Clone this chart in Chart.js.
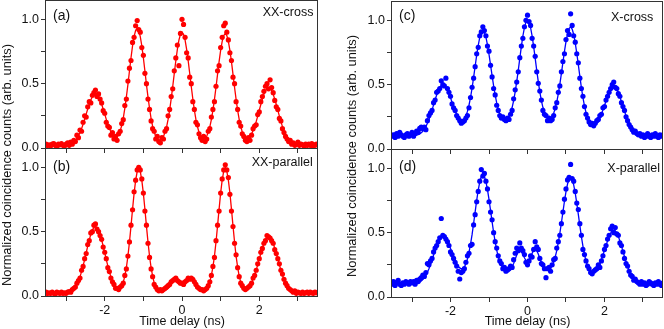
<!DOCTYPE html>
<html>
<head>
<meta charset="utf-8">
<script src="https://cdn.jsdelivr.net/npm/chart.js@4.4.1/dist/chart.umd.min.js"></script>
<style>
  body { margin: 0; background: #fff; }
  #wrap { position: relative; width: 664px; height: 329px; overflow: hidden; font-family: 'Liberation Sans', Arial, sans-serif; }
  canvas { position: absolute; }
  .ytitle { position: absolute; width: 300px; height: 16px; line-height: 16px; text-align: center;
            font-size: 12.8px; color: #111; transform: rotate(-90deg); white-space: nowrap; }
</style>
</head>
<body>
<div id="wrap">
  <canvas id="panelA" width="322" height="160" style="left:0;top:0"></canvas>
  <canvas id="panelB" width="322" height="181" style="left:0;top:148px"></canvas>
  <canvas id="panelC" width="318" height="160" style="left:346px;top:0"></canvas>
  <canvas id="panelD" width="318" height="180" style="left:346px;top:149px"></canvas>
  <div class="ytitle" style="left:-143px;top:157px">Normalized coincidence counts (arb. units)</div>
  <div class="ytitle" style="left:202px;top:148px">Normalized coincidence counts (arb. units)</div>
</div>
<script>
// time bins (ns)
const delayStart = -3.52;
const delayStep = 0.04;
const delayTicks = [-3, -2, -1, 0, 1, 2, 3];
const delayLabels = [-2, 0, 2];
const countTicks = [0, 0.25, 0.5, 0.75, 1];
const countLabels = [0, 0.5, 1];

const panelTags = ['(a)', '(b)', '(c)', '(d)'];
const panelNames = ['XX-cross', 'XX-parallel', 'X-cross', 'X-parallel'];

// (a) XX-cross
const xxCrossFit = [
  .02,.02,.02,.02,.02,.02,.02,.02,.02,.02,
  .02,.02,.021,.023,.024,.027,.032,.038,.046,.058,
  .074,.094,.12,.15,.184,.222,.263,.303,.34,.373,
  .398,.414,.42,.414,.398,.373,.34,.303,.263,.222,
  .184,.153,.125,.103,.089,.084,.089,.104,.133,.175,
  .233,.308,.396,.493,.598,.701,.793,.866,.914,.93,
  .914,.866,.793,.701,.598,.493,.396,.308,.229,.168,
  .124,.09,.072,.061,.061,.07,.089,.121,.163,.222,
  .295,.382,.478,.579,.678,.767,.838,.884,.9,.884,
  .838,.767,.678,.579,.478,.382,.295,.222,.166,.123,
  .092,.076,.071,.076,.093,.121,.165,.22,.292,.378,
  .472,.572,.671,.759,.829,.874,.89,.874,.829,.759,
  .671,.572,.472,.378,.292,.223,.167,.125,.097,.081,
  .075,.078,.089,.109,.135,.166,.205,.248,.293,.338,
  .38,.417,.446,.464,.47,.464,.446,.417,.38,.338,
  .293,.248,.205,.166,.132,.104,.081,.063,.05,.04,
  .033,.028,.025,.023,.02,.02,.02,.02,.02,.02,
  .02,.02,.02,.02,.02,.02,.02
];
const xxCrossData = [
  .03,.02,.025,.015,.03,.035,.02,.01,.03,.025,
  .035,.02,.015,.03,.04,.02,.045,.03,.06,.05,
  .1,.08,.14,.13,.2,.25,.24,.32,.36,.35,
  .41,.43,.45,.4,.42,.38,.35,.29,.27,.2,
  .17,.16,.1,.12,.07,.09,.06,.11,.13,.19,
  .22,.33,.38,.52,.62,.68,.82,.86,.95,.99,
  .92,.9,.78,.72,.58,.5,.38,.3,.21,.15,
  .13,.07,.09,.05,.04,.08,.07,.13,.15,.25,
  .3,.4,.46,.6,.7,.8,.64,.89,1.0,.96,
  .86,.74,.7,.55,.5,.36,.3,.2,.18,.11,
  .08,.06,.09,.05,.07,.13,.15,.24,.3,.36,
  .48,.6,.64,.78,.86,.95,.97,.9,.84,.74,
  .68,.55,.5,.36,.3,.2,.17,.11,.09,.06,
  .05,.08,.06,.1,.15,.17,.18,.26,.28,.36,
  .4,.44,.48,.5,.46,.53,.47,.43,.37,.32,
  .3,.23,.21,.15,.12,.09,.07,.05,.06,.03,
  .04,.02,.03,.045,.02,.03,.025,.015,.03,.02,
  .03,.02,.035,.01,.025,.03,.02
];

// (b) XX-parallel
const xxParallelFit = [
  .02,.02,.02,.02,.02,.02,.02,.02,.02,.02,
  .02,.02,.02,.024,.026,.029,.035,.043,.054,.07,
  .09,.117,.149,.189,.234,.283,.336,.388,.437,.479,
  .512,.533,.54,.533,.512,.479,.437,.388,.336,.283,
  .234,.189,.149,.117,.092,.074,.062,.058,.063,.078,
  .108,.155,.22,.309,.419,.543,.674,.797,.899,.967,
  .99,.967,.899,.797,.674,.543,.419,.309,.22,.155,
  .102,.069,.05,.042,.04,.04,.042,.045,.05,.06,
  .078,.1,.12,.134,.14,.135,.122,.108,.098,.095,
  .1,.114,.128,.138,.142,.135,.12,.1,.08,.064,
  .054,.047,.047,.052,.058,.079,.11,.16,.225,.31,
  .42,.545,.675,.8,.9,.97,1,.97,.9,.8,
  .675,.545,.42,.31,.225,.155,.108,.077,.061,.054,
  .057,.066,.079,.102,.13,.163,.201,.243,.287,.331,
  .372,.408,.436,.454,.46,.454,.436,.408,.372,.331,
  .287,.243,.201,.163,.13,.102,.079,.062,.049,.039,
  .033,.028,.025,.023,.02,.02,.02,.02,.02,.02,
  .02,.02,.02,.02,.02,.02,.02
];
const xxParallelData = [
  .03,.02,.025,.02,.03,.02,.015,.03,.025,.02,
  .03,.02,.025,.02,.03,.035,.03,.05,.06,.07,
  .1,.12,.14,.2,.23,.29,.33,.4,.43,.49,
  .5,.55,.56,.52,.5,.47,.44,.38,.34,.29,
  .22,.19,.14,.11,.09,.06,.06,.05,.07,.08,
  .1,.16,.21,.31,.42,.55,.67,.81,.9,.98,
  1,.98,.91,.8,.66,.55,.41,.3,.21,.15,
  .09,.07,.05,.04,.05,.04,.05,.06,.07,.08,
  .09,.11,.12,.13,.14,.12,.11,.1,.1,.09,
  .11,.12,.14,.13,.14,.13,.11,.09,.07,.06,
  .05,.05,.04,.05,.06,.08,.11,.16,.23,.3,
  .43,.55,.66,.8,.91,.98,1.02,.98,.92,.79,
  .66,.54,.41,.32,.22,.15,.1,.08,.06,.05,
  .06,.07,.08,.1,.14,.16,.2,.25,.29,.34,
  .37,.41,.43,.47,.46,.45,.43,.41,.36,.33,
  .29,.25,.2,.17,.13,.1,.08,.06,.05,.04,
  .03,.04,.02,.03,.025,.02,.03,.02,.025,.03,
  .02,.03,.025,.02,.03,.025,.03
];

// (c) X-cross
const xCrossFit = [
  .1,.1,.1,.1,.1,.1,.1,.1,.1,.1,
  .1,.1,.1,.1,.103,.104,.107,.112,.118,.126,
  .138,.154,.174,.2,.23,.264,.302,.343,.383,.42,
  .453,.478,.494,.5,.494,.478,.458,.43,.398,.363,
  .327,.296,.269,.247,.23,.222,.223,.233,.257,.292,
  .34,.401,.472,.556,.643,.729,.806,.867,.907,.92,
  .907,.869,.81,.736,.654,.57,.49,.418,.358,.309,
  .273,.247,.232,.225,.225,.235,.253,.282,.322,.376,
  .444,.523,.611,.704,.796,.878,.943,.985,1,.985,
  .943,.878,.796,.704,.611,.523,.444,.376,.324,.284,
  .257,.241,.235,.24,.253,.278,.316,.365,.428,.502,
  .585,.673,.758,.835,.897,.936,.95,.932,.89,.824,
  .744,.655,.564,.477,.399,.336,.282,.242,.213,.197,
  .187,.185,.191,.203,.221,.244,.272,.304,.339,.373,
  .404,.435,.459,.475,.48,.475,.459,.435,.404,.369,
  .331,.292,.256,.224,.195,.171,.151,.136,.125,.117,
  .111,.107,.104,.103,.101,.1,.1,.1,.1,.1,
  .1,.1,.1,.1,.1,.1,.1
];
const xCrossData = [
  .1,.11,.09,.12,.1,.13,.11,.1,.09,.11,
  .12,.1,.11,.13,.1,.12,.14,.13,.16,.17,
  .16,.17,.15,.22,.26,.28,.3,.36,.38,.44,
  .45,.47,.53,.5,.49,.55,.47,.44,.41,.35,
  .32,.3,.26,.24,.22,.2,.21,.22,.24,.26,
  .32,.4,.48,.55,.64,.74,.79,.88,.91,.95,
  .92,.88,.8,.76,.65,.56,.47,.42,.34,.3,
  .26,.24,.25,.23,.22,.24,.23,.27,.3,.39,
  .46,.52,.6,.71,.8,.86,.95,1,1.04,.99,
  .96,.86,.8,.72,.6,.51,.45,.38,.3,.27,
  .26,.22,.24,.22,.23,.26,.32,.36,.44,.49,
  .6,.68,.74,.85,.92,.89,1.05,.96,.88,.83,
  .74,.67,.55,.47,.41,.33,.27,.24,.21,.19,
  .2,.18,.2,.22,.23,.26,.27,.32,.33,.38,
  .41,.44,.47,.5,.52,.48,.47,.43,.41,.36,
  .33,.3,.25,.22,.19,.17,.15,.13,.14,.12,
  .11,.12,.1,.11,.09,.1,.12,.1,.09,.11,
  .1,.12,.1,.09,.11,.1,.11
];

// (d) X-parallel
const xParallelFit = [
  .1,.1,.1,.1,.1,.1,.1,.1,.1,.1,
  .1,.1,.1,.1,.103,.104,.107,.111,.116,.124,
  .135,.15,.169,.192,.22,.252,.287,.325,.362,.396,
  .426,.45,.465,.47,.465,.45,.431,.406,.377,.345,
  .312,.284,.259,.24,.226,.219,.222,.233,.258,.296,
  .347,.411,.484,.571,.662,.751,.831,.895,.936,.95,
  .936,.897,.835,.758,.673,.585,.502,.428,.365,.314,
  .274,.245,.226,.212,.205,.203,.205,.215,.232,.26,
  .293,.326,.351,.36,.353,.331,.305,.284,.277,.287,
  .31,.339,.362,.37,.36,.334,.299,.264,.235,.218,
  .209,.208,.213,.225,.244,.272,.311,.36,.422,.494,
  .575,.66,.744,.818,.878,.917,.93,.913,.871,.807,
  .73,.642,.554,.469,.395,.331,.28,.241,.213,.197,
  .189,.189,.196,.21,.231,.257,.289,.325,.363,.401,
  .436,.47,.497,.514,.52,.514,.497,.47,.436,.397,
  .355,.313,.273,.237,.205,.178,.157,.14,.128,.118,
  .112,.108,.105,.103,.102,.1,.1,.1,.1,.1,
  .1,.1,.1,.1,.1,.1,.1
];
const xParallelData = [
  .1,.12,.09,.11,.13,.1,.09,.11,.1,.12,
  .11,.1,.12,.11,.12,.1,.13,.12,.14,.15,
  .17,.16,.19,.26,.25,.28,.3,.35,.38,.4,
  .43,.46,.61,.48,.47,.45,.43,.4,.35,.33,
  .3,.27,.24,.2,.14,.19,.2,.22,.27,.32,
  .34,.4,.41,.56,.64,.74,.82,.9,.99,.94,
  .96,.9,.84,.74,.66,.6,.5,.43,.38,.32,
  .28,.26,.22,.23,.2,.21,.22,.24,.23,.29,
  .34,.38,.36,.42,.38,.36,.33,.27,.25,.28,
  .32,.31,.37,.43,.39,.37,.3,.26,.25,.22,
  .15,.22,.23,.2,.25,.29,.3,.38,.43,.48,
  .57,.66,.76,.84,.91,.93,1.03,.92,.9,.82,
  .73,.68,.57,.48,.37,.33,.28,.24,.22,.19,
  .18,.2,.21,.22,.25,.23,.28,.32,.37,.4,
  .45,.48,.53,.55,.5,.54,.49,.48,.42,.4,
  .35,.3,.26,.24,.2,.17,.16,.13,.14,.12,
  .11,.1,.12,.1,.11,.09,.1,.12,.11,.1,
  .09,.11,.1,.12,.1,.09,.11
];

const toPoints = vals => vals.map((v, i) => ({ x: +(delayStart + i * delayStep).toFixed(2), y: v }));

Chart.defaults.font.family = "'Liberation Sans', Arial, sans-serif";
Chart.defaults.color = '#111';

// frame round the plot + panel letter and name
const panelDecor = {
  id: 'panelDecor',
  afterDraw(chart, args, o) {
    const { ctx, chartArea: a } = chart;
    ctx.save();
    ctx.strokeStyle = '#333';
    ctx.lineWidth = 1;
    ctx.strokeRect(a.left - 0.5, a.top + 0.5, a.right - a.left, a.bottom - a.top);
    ctx.fillStyle = '#111';
    ctx.textBaseline = 'middle';
    ctx.textAlign = 'left';
    ctx.font = "14px 'Liberation Sans', Arial, sans-serif";
    ctx.fillText(o.tag, a.left + o.tagX, a.top + o.tagY);
    ctx.font = "12.5px 'Liberation Sans', Arial, sans-serif";
    ctx.fillText(o.name, a.left + o.nameX, a.top + o.nameY);
    ctx.restore();
  }
};

function makePanel(id, fit, data, color, p) {
  return new Chart(document.getElementById(id), {
    type: 'scatter',
    data: {
      datasets: [
        {
          data: toPoints(fit),
          showLine: true,
          borderColor: color,
          borderWidth: 1.3,
          pointRadius: 0,
          tension: 0,
          clip: 0,
        },
        {
          data: toPoints(data),
          showLine: false,
          pointRadius: 2.6,
          pointBorderWidth: 0,
          pointBackgroundColor: color,
          clip: 0,
        },
      ],
    },
    options: {
      responsive: false,
      animation: false,
      events: [],
      layout: { padding: p.pad, autoPadding: false },
      plugins: {
        legend: { display: false },
        tooltip: { enabled: false },
        panelDecor: p.decor,
      },
      scales: {
        x: {
          type: 'linear',
          min: -3.52,
          max: 3.52,
          afterBuildTicks: s => { s.ticks = delayTicks.map(v => ({ value: v })); },
          afterFit: s => { s.height = p.xHeight; s.paddingLeft = 0; s.paddingRight = 0; },
          grid: { drawOnChartArea: false, drawTicks: true, tickLength: 5, color: '#333' },
          border: { display: false },
          ticks: {
            padding: 2,
            maxRotation: 0,
            autoSkip: false,
            font: { size: 12.5 },
            callback: v => (p.xLabels && delayLabels.includes(v)) ? String(v) : '',
          },
          title: {
            display: p.xLabels,
            text: 'Time delay (ns)',
            font: { size: 12.5 },
            padding: { top: 0, bottom: 0 },
          },
        },
        y: {
          min: 0,
          max: 1.15,
          afterBuildTicks: s => { s.ticks = countTicks.map(v => ({ value: v })); },
          afterFit: s => { s.width = 46; s.paddingTop = 0; s.paddingBottom = 0; },
          grid: { drawOnChartArea: false, drawTicks: true, tickLength: 5, color: '#333' },
          border: { display: false },
          ticks: {
            padding: 2,
            font: { size: 12.5 },
            callback: v => countLabels.includes(v) ? v.toFixed(1) : '',
          },
        },
      },
    },
    plugins: [panelDecor],
  });
}

makePanel('panelA', xxCrossFit, xxCrossData, '#ff0000', {
  pad: { left: 0, top: 0, right: 4, bottom: 0 }, xHeight: 12, xLabels: false,
  decor: { tag: panelTags[0], name: panelNames[0], tagX: 7, tagY: 16, nameX: 216.7, nameY: 12.5 },
});
makePanel('panelB', xxParallelFit, xxParallelData, '#ff0000', {
  pad: { left: 0, top: 0, right: 4, bottom: 0 }, xHeight: 33, xLabels: true,
  decor: { tag: panelTags[1], name: panelNames[1], tagX: 7, tagY: 19.5, nameX: 205.7, nameY: 15 },
});
makePanel('panelC', xCrossFit, xCrossData, '#0000ff', {
  pad: { left: 0, top: 1, right: 1, bottom: 0 }, xHeight: 11, xLabels: false,
  decor: { tag: panelTags[2], name: panelNames[2], tagX: 7, tagY: 15, nameX: 219, nameY: 16.5 },
});
makePanel('panelD', xParallelFit, xParallelData, '#0000ff', {
  pad: { left: 0, top: 0, right: 1, bottom: 0 }, xHeight: 32, xLabels: true,
  decor: { tag: panelTags[3], name: panelNames[3], tagX: 7, tagY: 18.5, nameX: 215.3, nameY: 20 },
});
</script>
</body>
</html>
